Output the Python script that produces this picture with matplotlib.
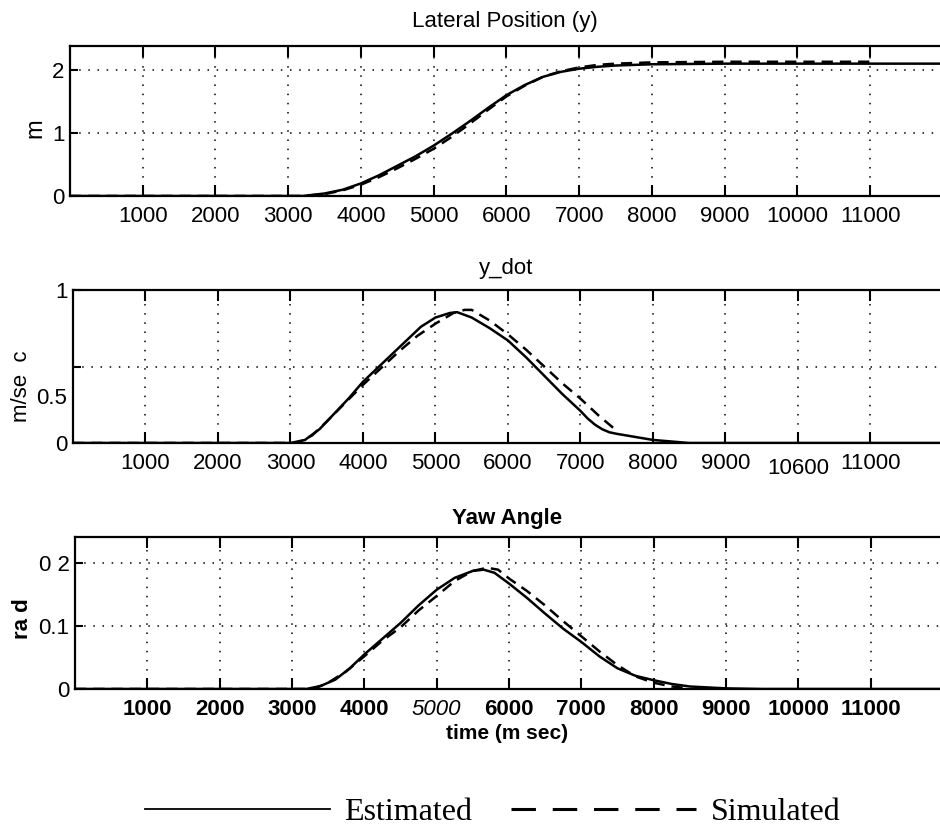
import numpy as np
import matplotlib
matplotlib.use("Agg")
import matplotlib.pyplot as plt
from matplotlib.lines import Line2D
from matplotlib.transforms import ScaledTranslation

plt.rcParams['font.family'] = ['Liberation Sans', 'DejaVu Sans']

# ---- data (time in ms) ----
t_pos_est = [0, 3000, 3200, 3500, 3750, 4000, 4250, 4500, 4750, 5000, 5250, 5500, 5750,
             6000, 6250, 6500, 6750, 7000, 7250, 7500, 8000, 9000, 10000, 12000]
pos_est = [0, 0, 0, 0.04, 0.10, 0.20, 0.33, 0.48, 0.63, 0.80, 0.99, 1.19, 1.40,
           1.60, 1.76, 1.89, 1.97, 2.02, 2.05, 2.07, 2.09, 2.10, 2.10, 2.10]
t_pos_sim = [0, 3200, 3500, 3750, 4000, 4250, 4500, 4750, 5000, 5250, 5500, 5750,
             6000, 6250, 6500, 6750, 7000, 7250, 7500, 8000, 9000, 10000, 11000]
pos_sim = [0, 0, 0.03, 0.09, 0.18, 0.30, 0.44, 0.59, 0.75, 0.94, 1.15, 1.37,
           1.58, 1.75, 1.89, 1.98, 2.04, 2.08, 2.10, 2.12, 2.13, 2.13, 2.13]

t_vel_est = [0, 3000, 3200, 3400, 3600, 3800, 4000, 4200, 4400, 4600, 4800, 5000, 5200, 5300,
             5500, 5750, 6000, 6250, 6500, 6750, 7000, 7100, 7200, 7300, 7400, 7500, 7750,
             8000, 8250, 8500, 12000]
vel_est = [0, 0, 0.02, 0.09, 0.19, 0.29, 0.40, 0.49, 0.58, 0.67, 0.76, 0.82, 0.85, 0.855,
           0.82, 0.75, 0.67, 0.56, 0.44, 0.32, 0.21, 0.16, 0.12, 0.09, 0.07, 0.06, 0.04,
           0.02, 0.01, 0, 0]
t_vel_sim = [0, 3100, 3300, 3500, 3750, 4000, 4250, 4500, 4750, 5000, 5250, 5400, 5500,
             5750, 6000, 6250, 6500, 6750, 7000, 7250, 7450]
vel_sim = [0, 0, 0.05, 0.14, 0.26, 0.38, 0.49, 0.60, 0.70, 0.78, 0.85, 0.87, 0.87,
           0.80, 0.71, 0.61, 0.50, 0.39, 0.29, 0.18, 0.10]

t_yaw_est = [0, 3200, 3400, 3600, 3800, 4000, 4250, 4500, 4750, 5000, 5250, 5500, 5650,
             5800, 6000, 6250, 6500, 6750, 7000, 7250, 7500, 7750, 8000, 8250, 8500,
             9000, 9500, 12000]
yaw_est = [0, 0, 0.005, 0.015, 0.033, 0.055, 0.08, 0.105, 0.133, 0.158, 0.177, 0.188, 0.19,
           0.185, 0.168, 0.145, 0.12, 0.096, 0.075, 0.052, 0.033, 0.021, 0.014, 0.008, 0.004,
           0.001, 0, 0]
t_yaw_sim = [0, 3300, 3500, 3750, 4000, 4250, 4500, 4750, 5000, 5250, 5500, 5700, 5850,
             6000, 6250, 6500, 6750, 7000, 7250, 7500, 7750, 8000, 8250, 8500]
yaw_sim = [0, 0, 0.01, 0.028, 0.052, 0.077, 0.098, 0.125, 0.148, 0.172, 0.188, 0.193, 0.19,
           0.176, 0.156, 0.133, 0.108, 0.084, 0.06, 0.038, 0.02, 0.01, 0.004, 0.001]

xticks = [1000, 2000, 3000, 4000, 5000, 6000, 7000, 8000, 9000, 10000, 11000]
xlabels_top = ['1000', '2000', '3000', '4000', '5000', '6000', '7000', '8000', '9000', '10000', '11000']
xlabels_mid = ['1000', '2000', '3000', '4000', '5000', '6000', '7000', '8000', '9000', '10600', '11000']
xlabels_bot = ['1000', '2000', '3000', '4000', '5000', '6000', '7000', '8000', '9000', '10000', '11000']

fig = plt.figure(figsize=(9.4, 8.31), dpi=100)

W, H = 940.0, 831.0
def box(left, top, bottom):
    return [left / W, 1 - bottom / H, (W - left) / W, (bottom - top) / H]

ax1 = fig.add_axes(box(70, 46, 196))
ax2 = fig.add_axes(box(73, 290, 443))
ax3 = fig.add_axes(box(75, 537, 689))

est_kw = dict(color='black', lw=1.8, ls='-')
sim_kw = dict(color='black', lw=1.8, ls=(0, (4.5, 2.8)))

ax1.plot(t_pos_est, pos_est, **est_kw)
ax1.plot(t_pos_sim, pos_sim, **sim_kw)
ax2.plot(t_vel_est, vel_est, **est_kw)
ax2.plot(t_vel_sim, vel_sim, **sim_kw)
ax3.plot(t_yaw_est, yaw_est, **est_kw)
ax3.plot(t_yaw_sim, yaw_sim, **sim_kw)

for ax in (ax1, ax2, ax3):
    ax.set_xlim(0, 11960)
    ax.set_xticks(xticks)
    ax.grid(True, color='black', ls=(0, (1, 5)), lw=1.1)
    ax.tick_params(axis='x', direction='in', top=True, length=8, width=1.5, pad=7, labelsize=16)
    ax.tick_params(axis='y', direction='in', length=6, width=1.5, pad=4, labelsize=16)
    ax.spines['right'].set_visible(False)
    for s in ('left', 'top', 'bottom'):
        ax.spines[s].set_linewidth(1.6)

ax1.set_ylim(0, 2.38)
ax1.set_yticks([0, 1, 2])
ax1.set_yticklabels(['0', '1', '2'])
ax1.set_xticklabels(xlabels_top)
ax1.set_title('Lateral Position (y)', fontsize=16, pad=14)
ax1.set_ylabel('m', fontsize=17)
ax1.yaxis.set_label_coords(-0.027, 0.45)

ax2.set_ylim(0, 1.0)
ax2.set_yticks([0, 0.5, 1])
ax2.set_yticklabels(['0', '0.5', '1'])
ax2.set_xticklabels(xlabels_mid)
ax2.set_title('y_dot', fontsize=16, pad=11.5)
ax2.set_ylabel('m/se  c', fontsize=16)
ax2.yaxis.set_label_coords(-0.047, 0.37)
lbl = ax2.get_yticklabels()[1]
lbl.set_transform(lbl.get_transform() + ScaledTranslation(0, -0.30, fig.dpi_scale_trans))
lbl = ax2.get_xticklabels()[9]
lbl.set_transform(lbl.get_transform() + ScaledTranslation(0, -0.05, fig.dpi_scale_trans))

ax3.set_ylim(0, 0.242)
ax3.set_yticks([0, 0.1, 0.2])
ax3.set_yticklabels(['0', '0.1', '0 2'])
ax3.set_xticklabels(xlabels_bot, fontweight='bold')
ax3.get_xticklabels()[4].set_style('italic')
ax3.get_xticklabels()[4].set_fontweight('normal')
ax3.set_title('Yaw Angle', fontsize=16, fontweight='bold', pad=9.5)
ax3.set_ylabel('ra d', fontsize=16, fontweight='bold')
ax3.yaxis.set_label_coords(-0.048, 0.46)
ax3.set_xlabel('time (m sec)', fontsize=15, fontweight='bold', labelpad=3)

h_est = Line2D([], [], color='black', lw=1.3, ls='-')
h_sim = Line2D([], [], color='black', lw=2.2, ls=(0, (8, 5.5)))
fig.legend([h_est, h_sim], ['Estimated', 'Simulated'], loc='center',
           bbox_to_anchor=(0.524, 0.022), ncol=2, frameon=False,
           handlelength=5.8, handletextpad=0.45, columnspacing=1.2,
           prop={'family': 'Liberation Serif', 'size': 23})

fig.savefig('out.png', dpi=100)
